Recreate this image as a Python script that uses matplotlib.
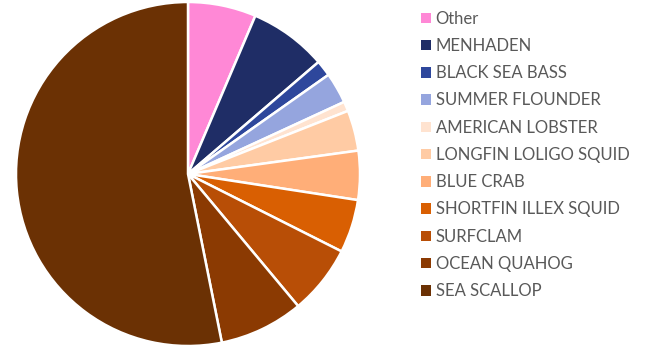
import matplotlib.pyplot as plt
from matplotlib.patches import Patch

species = ['Other', 'MENHADEN', 'BLACK SEA BASS', 'SUMMER FLOUNDER', 'AMERICAN LOBSTER',
           'LONGFIN LOLIGO SQUID', 'BLUE CRAB', 'SHORTFIN ILLEX SQUID', 'SURFCLAM',
           'OCEAN QUAHOG', 'SEA SCALLOP']
share = [6.4, 7.3, 1.5, 2.9, 0.9, 3.8, 4.6, 5.0, 6.5, 7.9, 53.1]
colors = ['#FF88D6', '#1F2D66', '#2E479C', '#95A5DE', '#FFE3D0', '#FFCBA4',
          '#FFAE78', '#D95F02', '#B84E06', '#8B3A02', '#6B3104']

fig = plt.figure(figsize=(6.5, 3.49), dpi=100)
ax = fig.add_axes([16 / 650, 3 / 349, 344 / 650, 344 / 349])
ax.pie(share, colors=colors, startangle=90, counterclock=False,
       wedgeprops=dict(edgecolor='white', linewidth=1.8))
ax.set_xlim(-1, 1)
ax.set_ylim(-1, 1)
ax.set_aspect('equal')

handles = [Patch(facecolor=c, edgecolor='none') for c in colors]
leg = fig.legend(handles, species, loc='upper left', bbox_to_anchor=(414 / 650, 1 - 4 / 349),
                 frameon=False, prop={'family': 'Lato', 'size': 12},
                 handlelength=0.6, handleheight=0.6, handletextpad=0.3,
                 labelspacing=0.675, borderaxespad=0)
for t in leg.get_texts():
    t.set_color('#595959')

fig.savefig('out.png', dpi=100)
